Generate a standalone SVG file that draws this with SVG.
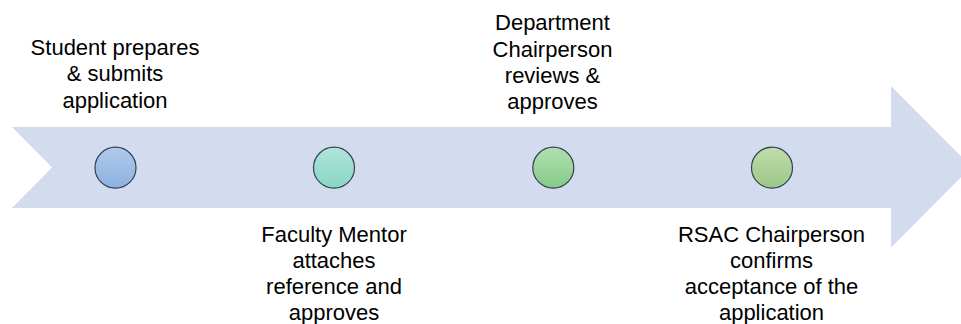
<svg xmlns="http://www.w3.org/2000/svg" width="961" height="324" viewBox="0 0 961 324">
  <style>
    .lbl { font-family: "Liberation Sans", Arial, sans-serif; font-size: 22px; fill: #000000; text-anchor: middle; }
    .dot { stroke: #34404e; stroke-width: 1.2; }
  </style>
  <defs>
    <linearGradient id="g1" x1="0" y1="0" x2="0" y2="1">
      <stop offset="0" stop-color="#b0c9ec"/>
      <stop offset="1" stop-color="#8db1df"/>
    </linearGradient>
    <linearGradient id="g2" x1="0" y1="0" x2="0" y2="1">
      <stop offset="0" stop-color="#b0e4da"/>
      <stop offset="1" stop-color="#89d6c3"/>
    </linearGradient>
    <linearGradient id="g3" x1="0" y1="0" x2="0" y2="1">
      <stop offset="0" stop-color="#b0dfb0"/>
      <stop offset="1" stop-color="#86cb8a"/>
    </linearGradient>
    <linearGradient id="g4" x1="0" y1="0" x2="0" y2="1">
      <stop offset="0" stop-color="#bfddac"/>
      <stop offset="1" stop-color="#9cc787"/>
    </linearGradient>
  </defs>
  <rect width="961" height="324" fill="#ffffff"/>
  <g id="timeline-arrow">
    <path d="M12,127 L891,127 L891,86 L971.5,166.8 L891,247.5 L891,208 L12,208 L52,167.5 Z" fill="#d2dcee"/>
  </g>
  <g id="connectors"></g>
  <g id="step1">
    <circle class="dot" cx="115.5" cy="167.7" r="20.5" fill="url(#g1)"/>
    <text class="lbl" x="115" y="54.5">Student prepares</text>
    <text class="lbl" x="115" y="81">&amp; submits</text>
    <text class="lbl" x="115" y="107.5">application</text>
  </g>
  <g id="step2">
    <circle class="dot" cx="334" cy="167.7" r="20.5" fill="url(#g2)"/>
    <text class="lbl" x="334" y="242">Faculty Mentor</text>
    <text class="lbl" x="334" y="268">attaches</text>
    <text class="lbl" x="334" y="294">reference and</text>
    <text class="lbl" x="334" y="319.5">approves</text>
  </g>
  <g id="step3">
    <circle class="dot" cx="553.3" cy="167.7" r="20.5" fill="url(#g3)"/>
    <text class="lbl" x="552.5" y="30">Department</text>
    <text class="lbl" x="552.5" y="56.5">Chairperson</text>
    <text class="lbl" x="552.5" y="83">reviews &amp;</text>
    <text class="lbl" x="552.5" y="108.5">approves</text>
  </g>
  <g id="step4">
    <circle class="dot" cx="772" cy="167.7" r="20.5" fill="url(#g4)"/>
    <text class="lbl" x="771.5" y="242">RSAC Chairperson</text>
    <text class="lbl" x="771.5" y="268">confirms</text>
    <text class="lbl" x="771.5" y="294">acceptance of the</text>
    <text class="lbl" x="771.5" y="319.5">application</text>
  </g>
</svg>
